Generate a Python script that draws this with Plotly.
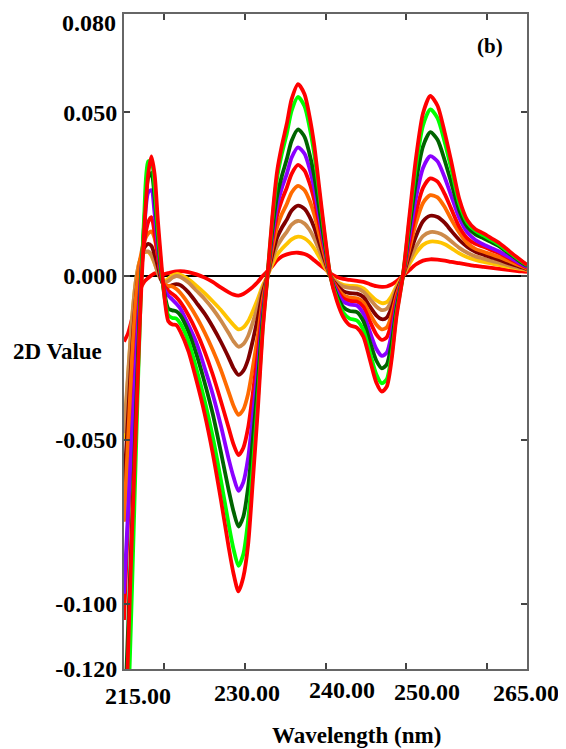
import plotly.graph_objects as go

wavelength = [215.0, 215.5, 216.0, 216.5, 217.0, 217.5, 218.0, 218.4, 218.8, 219.2, 219.6, 220.0, 220.5, 221.0, 221.5, 222.0,
              223.0, 224.0, 225.0, 226.0, 227.0, 228.0, 228.6, 229.2, 229.8, 230.4, 231.0, 231.6, 232.2, 232.8, 233.4, 234.0,
              234.6, 235.2, 235.8, 236.6, 237.4, 238.0, 238.6, 239.2, 239.8, 240.6, 241.4, 242.2, 243.0, 243.9, 244.7, 245.5,
              246.3, 247.0, 247.6, 248.2, 248.8, 249.6, 250.4, 251.2, 252.1, 253.0, 253.9, 254.8, 255.6, 256.6, 257.6, 258.6,
              259.6, 260.6, 261.6, 262.6, 263.6, 264.4, 265.0]

s1_red = [-0.0200, -0.0175, -0.0130, -0.0085, -0.0042, -0.0018, -0.0006, 0.0002, 0.0008, 0.0008, 0.0005, 0.0006, 0.0009, 0.0012, 0.0014, 0.0015,
          0.0012, 0.0005, -0.0005, -0.0018, -0.0035, -0.0050, -0.0057, -0.0060, -0.0055, -0.0045, -0.0033, -0.0018, 0.0000, 0.0015, 0.0030, 0.0048,
          0.0060, 0.0066, 0.0070, 0.0071, 0.0067, 0.0060, 0.0048, 0.0036, 0.0024, 0.0008, -0.0003, -0.0009, -0.0012, -0.0015, -0.0018, -0.0025,
          -0.0031, -0.0033, -0.0032, -0.0026, -0.0016, 0.0000, 0.0018, 0.0035, 0.0047, 0.0051, 0.0050, 0.0047, 0.0043, 0.0039, 0.0035, 0.0031,
          0.0028, 0.0025, 0.0022, 0.0019, 0.0016, 0.0014, 0.0013]

s2_gold = [-0.050, -0.031, -0.013, -0.001, 0.0050, 0.0072, 0.0073, 0.0062, 0.0038, 0.0012, -0.0008, -0.0015, -0.0008, 0.0002, 0.0006, 0.0004,
           -0.0010, -0.0030, -0.0052, -0.0077, -0.0103, -0.0133, -0.0150, -0.0163, -0.0157, -0.0138, -0.0106, -0.0070, -0.0030, 0.0000, 0.0036, 0.0065,
           0.0083, 0.0098, 0.0112, 0.0120, 0.0115, 0.0103, 0.0084, 0.0059, 0.0032, 0.0000, -0.0017, -0.0027, -0.0030, -0.0031, -0.0038, -0.0056,
           -0.0074, -0.0083, -0.0080, -0.0061, -0.0031, 0.0000, 0.0036, 0.0069, 0.0095, 0.0105, 0.0104, 0.0097, 0.0085, 0.0069, 0.0057, 0.0049,
           0.0043, 0.0038, 0.0033, 0.0028, 0.0024, 0.0021, 0.0019]

s3_tan = [-0.048, -0.030, -0.013, -0.001, 0.0050, 0.0072, 0.0075, 0.0065, 0.0040, 0.0010, -0.0012, -0.0020, -0.0015, -0.0005, 0.0000, -0.0003,
          -0.0020, -0.0045, -0.0070, -0.0100, -0.0135, -0.0175, -0.0200, -0.0216, -0.0208, -0.0183, -0.0140, -0.0092, -0.0038, 0.0000, 0.0050, 0.0090,
          0.0115, 0.0135, 0.0157, 0.0168, 0.0160, 0.0142, 0.0115, 0.0080, 0.0043, 0.0000, -0.0020, -0.0032, -0.0036, -0.0038, -0.0048, -0.0070,
          -0.0093, -0.0104, -0.0100, -0.0076, -0.0038, 0.0000, 0.0046, 0.0088, 0.0122, 0.0134, 0.0132, 0.0122, 0.0106, 0.0086, 0.0071, 0.0060,
          0.0053, 0.0046, 0.0040, 0.0033, 0.0027, 0.0023, 0.0020]

s4_maroon = [-0.065, -0.043, -0.022, -0.006, 0.0040, 0.0085, 0.0098, 0.0092, 0.0065, 0.0030, -0.0010, -0.0030, -0.0033, -0.0028, -0.0025, -0.0028,
             -0.0050, -0.0082, -0.0115, -0.0155, -0.0200, -0.0250, -0.0282, -0.0302, -0.0290, -0.0255, -0.0195, -0.0128, -0.0052, 0.0000, 0.0065, 0.0117,
             0.0148, 0.0172, 0.0200, 0.0215, 0.0205, 0.0182, 0.0148, 0.0103, 0.0056, 0.0000, -0.0028, -0.0046, -0.0052, -0.0054, -0.0064, -0.0093,
             -0.0120, -0.0132, -0.0127, -0.0097, -0.0048, 0.0000, 0.0062, 0.0120, 0.0167, 0.0184, 0.0180, 0.0162, 0.0138, 0.0110, 0.0089, 0.0074,
             0.0065, 0.0057, 0.0049, 0.0040, 0.0032, 0.0026, 0.0021]

s5_orange = [-0.075, -0.050, -0.025, -0.006, 0.0050, 0.0105, 0.0130, 0.0136, 0.0115, 0.0060, 0.0000, -0.0025, -0.0030, -0.0032, -0.0040, -0.0052,
             -0.0085, -0.0125, -0.0172, -0.0225, -0.0285, -0.0355, -0.0397, -0.0424, -0.0408, -0.0360, -0.0276, -0.0182, -0.0074, 0.0000, 0.0085, 0.0150,
             0.0190, 0.0220, 0.0255, 0.0275, 0.0262, 0.0232, 0.0188, 0.0130, 0.0070, 0.0000, -0.0035, -0.0058, -0.0066, -0.0068, -0.0080, -0.0115,
             -0.0148, -0.0163, -0.0157, -0.0120, -0.0060, 0.0000, 0.0082, 0.0160, 0.0223, 0.0247, 0.0240, 0.0210, 0.0173, 0.0132, 0.0100, 0.0083,
             0.0074, 0.0066, 0.0057, 0.0047, 0.0037, 0.0029, 0.0023]

s6_red = [-0.105, -0.075, -0.047, -0.022, -0.0030, 0.0100, 0.0165, 0.0180, 0.0130, 0.0060, 0.0000, -0.0030, -0.0045, -0.0055, -0.0065, -0.0080,
          -0.0120, -0.0170, -0.0230, -0.0300, -0.0380, -0.0465, -0.0515, -0.0547, -0.0525, -0.0463, -0.0355, -0.0235, -0.0095, 0.0000, 0.0105, 0.0185,
          0.0233, 0.0270, 0.0312, 0.0339, 0.0322, 0.0285, 0.0232, 0.0160, 0.0087, 0.0000, -0.0040, -0.0068, -0.0076, -0.0078, -0.0094, -0.0138,
          -0.0178, -0.0195, -0.0187, -0.0142, -0.0070, 0.0000, 0.0098, 0.0192, 0.0269, 0.0298, 0.0288, 0.0250, 0.0205, 0.0150, 0.0115, 0.0098,
          0.0089, 0.0079, 0.0069, 0.0056, 0.0043, 0.0033, 0.0026]

s7_purple = [-0.097, -0.072, -0.048, -0.025, -0.0040, 0.0140, 0.0255, 0.0262, 0.0190, 0.0090, 0.0010, -0.0040, -0.0060, -0.0072, -0.0085, -0.0100,
             -0.0150, -0.0205, -0.0280, -0.0360, -0.0455, -0.0560, -0.0615, -0.0656, -0.0630, -0.0555, -0.0425, -0.0280, -0.0115, 0.0000, 0.0122, 0.0215,
             0.0270, 0.0312, 0.0362, 0.0393, 0.0373, 0.0330, 0.0268, 0.0185, 0.0100, 0.0000, -0.0048, -0.0078, -0.0087, -0.0090, -0.0115, -0.0170,
             -0.0222, -0.0244, -0.0234, -0.0177, -0.0087, 0.0000, 0.0120, 0.0236, 0.0330, 0.0366, 0.0350, 0.0300, 0.0245, 0.0177, 0.0133, 0.0110,
             0.0096, 0.0085, 0.0074, 0.0060, 0.0046, 0.0035, 0.0028]

s8_darkgreen = [-0.140, -0.108, -0.075, -0.040, -0.0080, 0.0160, 0.0300, 0.0315, 0.0240, 0.0120, 0.0020, -0.0050, -0.0100, -0.0105, -0.0108, -0.0120,
                -0.0170, -0.0240, -0.0325, -0.0420, -0.0535, -0.0655, -0.0720, -0.0765, -0.0735, -0.0645, -0.0495, -0.0325, -0.0135, 0.0000, 0.0140, 0.0245,
                0.0307, 0.0357, 0.0413, 0.0448, 0.0425, 0.0375, 0.0306, 0.0211, 0.0115, 0.0000, -0.0058, -0.0095, -0.0107, -0.0110, -0.0138, -0.0200,
                -0.0258, -0.0282, -0.0270, -0.0205, -0.0100, 0.0000, 0.0143, 0.0283, 0.0396, 0.0439, 0.0416, 0.0352, 0.0285, 0.0200, 0.0150, 0.0127,
                0.0115, 0.0103, 0.0090, 0.0072, 0.0054, 0.0040, 0.0031]

s9_green = [-0.170, -0.135, -0.095, -0.052, -0.0120, 0.0180, 0.0350, 0.0350, 0.0270, 0.0140, 0.0030, -0.0060, -0.0120, -0.0128, -0.0130, -0.0145,
            -0.0200, -0.0285, -0.0380, -0.0490, -0.0620, -0.0760, -0.0835, -0.0885, -0.0850, -0.0745, -0.0575, -0.0380, -0.0160, 0.0000, 0.0170, 0.0300,
            0.0375, 0.0435, 0.0505, 0.0547, 0.0518, 0.0457, 0.0373, 0.0257, 0.0140, 0.0000, -0.0068, -0.0112, -0.0130, -0.0136, -0.0165, -0.0233,
            -0.0300, -0.0328, -0.0315, -0.0240, -0.0117, 0.0000, 0.0167, 0.0330, 0.0460, 0.0509, 0.0482, 0.0408, 0.0328, 0.0222, 0.0163, 0.0138,
            0.0124, 0.0110, 0.0095, 0.0076, 0.0057, 0.0043, 0.0033]

s10_red = [-0.160, -0.115, -0.078, -0.045, -0.0120, 0.0140, 0.0310, 0.0365, 0.0310, 0.0170, 0.0050, -0.0060, -0.0138, -0.0148, -0.0150, -0.0170,
           -0.0230, -0.0320, -0.0420, -0.0540, -0.0680, -0.0830, -0.0910, -0.0963, -0.0920, -0.0820, -0.0620, -0.0410, -0.0170, 0.0000, 0.0180, 0.0320,
           0.0400, 0.0465, 0.0540, 0.0586, 0.0555, 0.0490, 0.0400, 0.0275, 0.0150, 0.0000, -0.0075, -0.0125, -0.0150, -0.0158, -0.0185, -0.0255,
           -0.0325, -0.0353, -0.0338, -0.0256, -0.0125, 0.0000, 0.0180, 0.0355, 0.0497, 0.0550, 0.0520, 0.0437, 0.0350, 0.0235, 0.0170, 0.0143,
           0.0130, 0.0115, 0.0100, 0.0080, 0.0060, 0.0045, 0.0034]

series = [s1_red, s2_gold, s3_tan, s4_maroon, s5_orange, s6_red, s7_purple, s8_darkgreen, s9_green, s10_red]
colors = ["#FF0000", "#FFC400", "#CD8A4A", "#800000", "#FF6A00", "#FF0000", "#8A00FF", "#006400", "#00FF00", "#FF0000"]

x_range = [215, 265]
y_range = [-0.12, 0.08]
y_tickvals = [0.08, 0.05, 0.0, -0.05, -0.10, -0.12]
y_ticktext = ["", "0.050", "0.000", "-0.050", "-0.100", "-0.120"]
y_top_label = "0.080"
x_tickvals = [220, 230, 240, 250, 260]
x_label_text = ["215.00", "230.00", "240.00", "250.00", "265.00"]
x_label_pos = [216.7, 230.3, 242.1, 252.65, 264.85]
x_label_shift = [-27, -24, -21, -23, -24]

FONT = "Liberation Serif"

fig = go.Figure()
for vals, col in zip(series, colors):
    fig.add_trace(go.Scatter(x=wavelength, y=vals, mode="lines",
                             line=dict(color=col, width=3.8, shape="spline", smoothing=0.7),
                             showlegend=False, hoverinfo="skip"))

fig.update_layout(
    width=566, height=749,
    margin=dict(l=116, r=47, t=6, b=88, autoexpand=False),
    paper_bgcolor="white", plot_bgcolor="white",
    font=dict(family=FONT, size=24, color="black"),
    showlegend=False,
)
fig.update_xaxes(range=x_range, tickvals=x_tickvals, showticklabels=False,
                 ticks="inside", ticklen=6, tickwidth=1.5, tickcolor="#444",
                 showline=True, linecolor="#666", linewidth=2, mirror="ticks",
                 showgrid=False, zeroline=False, automargin=False)
fig.update_yaxes(range=y_range, tickvals=y_tickvals, ticktext=y_ticktext,
                 ticks="inside", ticklen=6, tickwidth=1.5, tickcolor="#444",
                 tickfont=dict(family=FONT, size=24, color="black", weight="bold"),
                 ticklabeloverflow="allow",
                 showline=True, linecolor="#666", linewidth=2, mirror="ticks",
                 showgrid=False, zeroline=True, zerolinecolor="black", zerolinewidth=1.5,
                 automargin=False)

fig.add_annotation(x=-6 / 403, y=1, xref="paper", yref="paper", text="<b>%s</b>" % y_top_label,
                   showarrow=False, xanchor="right", yanchor="middle", yshift=-9,
                   font=dict(family=FONT, size=24, color="black"))

for pos, txt, sh in zip(x_label_pos, x_label_text, x_label_shift):
    fig.add_annotation(x=(pos - x_range[0]) / (x_range[1] - x_range[0]), y=0, xref="paper", yref="paper",
                       text="<b>%s</b>" % txt,
                       showarrow=False, xanchor="center", yanchor="middle", yshift=sh,
                       font=dict(family=FONT, size=24, color="black"))

fig.add_annotation(x=0.576, y=0, xref="paper", yref="paper", text="<b>Wavelength (nm)</b>",
                   showarrow=False, xanchor="center", yanchor="middle", yshift=-66,
                   font=dict(family=FONT, size=23, color="black"))
fig.add_annotation(x=-0.164, y=-0.0232, xref="paper", yref="y", text="<b>2D Value</b>",
                   showarrow=False, xanchor="center", yanchor="middle",
                   font=dict(family=FONT, size=23, color="black"))
fig.add_annotation(x=0.908, y=0.0702, xref="paper", yref="y", text="<b>(b)</b>",
                   showarrow=False, xanchor="center", yanchor="middle",
                   font=dict(family=FONT, size=21, color="black"))

fig.write_html("out.html")
